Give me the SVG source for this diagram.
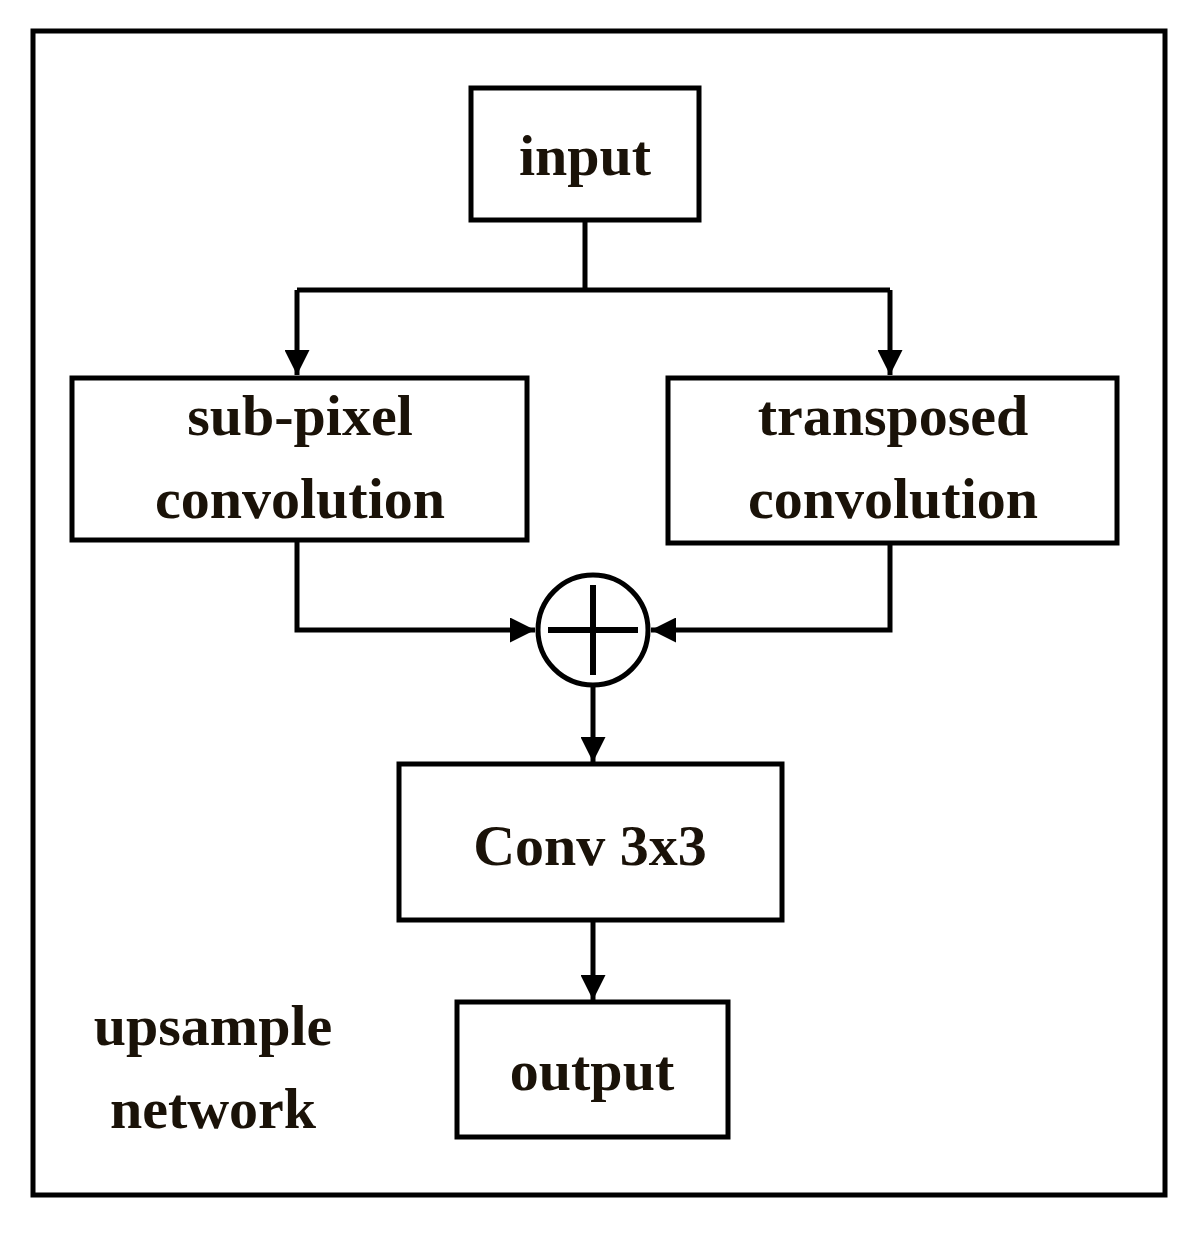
<svg xmlns="http://www.w3.org/2000/svg" width="1194" height="1233" viewBox="0 0 1194 1233">
<defs>
<marker id="ah" viewBox="0 0 10 10" refX="10" refY="5" markerWidth="5" markerHeight="5" markerUnits="strokeWidth" orient="auto"><path d="M0,0 L10,5 L0,10 z" fill="#000"/></marker>
<style>
.b{fill:#fff;stroke:#000;stroke-width:5}
.t{font-family:"Liberation Serif",serif;font-weight:bold;font-size:58px;fill:#1a1208;text-anchor:middle}
.c{fill:none;stroke:#000;stroke-width:5}
</style>
</defs>
<rect width="1194" height="1233" fill="#fff"/>
<rect x="33" y="31" width="1132" height="1164" fill="none" stroke="#000" stroke-width="5"/>
<g id="connectors">
<path class="c" d="M585,220 V290 M297,290 H890"/>
<path class="c" d="M297,290 V375" marker-end="url(#ah)"/>
<path class="c" d="M890,290 V375" marker-end="url(#ah)"/>
<path class="c" d="M297,540 V630 H535" marker-end="url(#ah)"/>
<path class="c" d="M890,543 V630 H651" marker-end="url(#ah)"/>
<path class="c" d="M593,685 V762" marker-end="url(#ah)"/>
<path class="c" d="M593,920 V1000" marker-end="url(#ah)"/>
</g>
<g id="input"><rect class="b" x="471" y="88" width="228" height="132"/><text class="t" x="585" y="175">input</text></g>
<g id="subpixel"><rect class="b" x="72" y="378" width="455" height="162"/><text class="t" x="300" y="435">sub-pixel</text><text class="t" x="300" y="518">convolution</text></g>
<g id="transposed"><rect class="b" x="668" y="378" width="449" height="165"/><text class="t" x="893" y="435">transposed</text><text class="t" x="893" y="518">convolution</text></g>
<g id="sum"><circle cx="593" cy="630" r="55" fill="#fff" stroke="#000" stroke-width="5"/><path d="M593,585 V675 M548,630 H638" stroke="#000" stroke-width="6"/></g>
<g id="conv"><rect class="b" x="399" y="764" width="383" height="156"/><text class="t" x="590" y="865">Conv 3x3</text></g>
<g id="output"><rect class="b" x="457" y="1002" width="271" height="135"/><text class="t" x="592" y="1090">output</text></g>
<g id="label"><text class="t" x="213" y="1045">upsample</text><text class="t" x="213" y="1128">network</text></g>
</svg>
